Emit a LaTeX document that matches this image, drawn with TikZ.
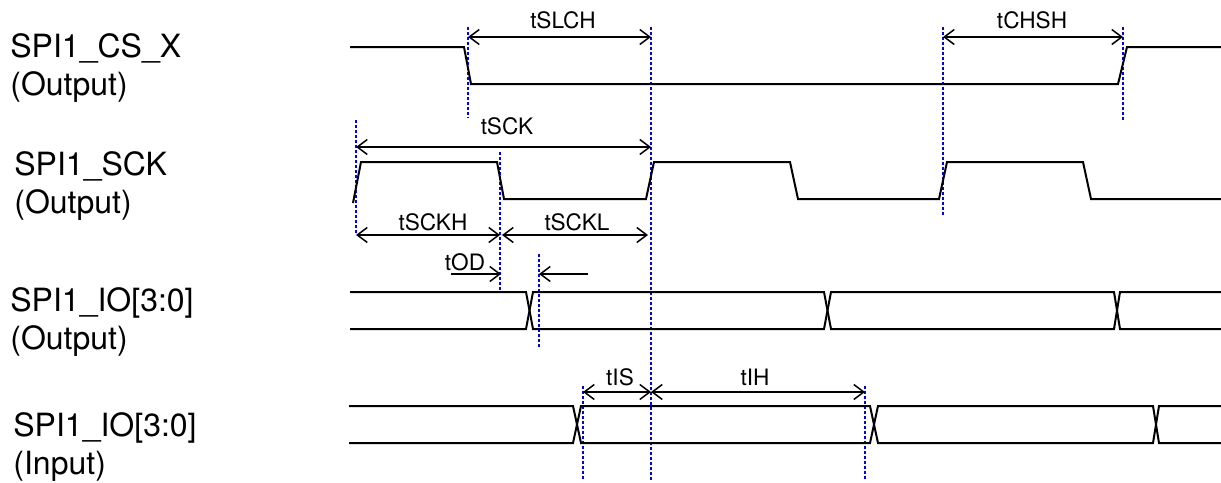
\documentclass[tikz,border=0pt]{standalone}
\usepackage{fontspec}
\setmainfont{TeX Gyre Heros}
\usetikzlibrary{arrows.meta}

\tikzset{
  sig/.style={line width=1pt, line join=miter},
  tick/.style={blue, line width=0.9pt, dash pattern=on 1.5pt off 1pt},
  barb/.tip={Straight Barb[length=5pt,width=7.5pt]},
  dim/.style={line width=0.75pt, barb-barb},
  signame/.style={anchor=north west, inner sep=0pt, align=left, font=\fontsize{16}{19}\selectfont},
  tlabel/.style={inner sep=0pt, font=\fontsize{11.3}{13}\selectfont}
}

\begin{document}
\begin{tikzpicture}[x=0.5pt, y=-0.5pt]
\useasboundingbox (0,0) rectangle (1221,482);
% signal names
\node [signame] (cs)    at (10,33)  {SPI1\_CS\_X\\(Output)};
\node [signame] (sck)   at (14,151) {SPI1\_SCK\\(Output)};
\node [signame] (ioout) at (10,287) {SPI1\_IO[3:0]\\(Output)};
\node [signame] (ioin)  at (13,412) {SPI1\_IO[3:0]\\(Input)};
% timing marks
\draw [tick] (468,27) -- (468,118);
\draw [tick] (651,27) -- (651,480);
\draw [tick] (943,27) -- (943,215);
\draw [tick] (1123,27) -- (1123,120);
\draw [tick] (356,120) -- (356,235);
\draw [tick] (500,152) -- (500,292);
\draw [tick] (539,254) -- (539,347);
\draw [tick] (583,386) -- (583,480);
\draw [tick] (865,386) -- (865,480);
% SPI1_CS_X
\draw [sig] (350,47) -- (464,47) -- (471,84) -- (1118,84) -- (1127,47) -- (1221,47);
% SPI1_SCK
\draw [sig] (353,203) -- (361,162) -- (497,162) -- (504,199) -- (646,199) -- (654,162)
  -- (790,162) -- (798,199) -- (939,199) -- (947,162) -- (1083,162) -- (1091,199) -- (1221,199);
% SPI1_IO output
\draw [sig] (350,292) -- (526,292) -- (533,329) -- (824,329) -- (831,292) -- (1114,292) -- (1120,329) -- (1221,329);
\draw [sig] (350,329) -- (526,329) -- (533,292) -- (824,292) -- (831,329) -- (1114,329) -- (1120,292) -- (1221,292);
% SPI1_IO input
\draw [sig] (349,406) -- (573,406) -- (581,443) -- (870,443) -- (878,406) -- (1153,406) -- (1159,443) -- (1221,443);
\draw [sig] (349,443) -- (573,443) -- (581,406) -- (870,406) -- (878,443) -- (1153,443) -- (1159,406) -- (1221,406);
% arrows
\draw [dim] (468,37) -- (651,37);   \node [tlabel] (tslch) at (563,20)  {tSLCH};
\draw [dim] (943,37) -- (1123,37);  \node [tlabel] (tchsh) at (1032,20) {tCHSH};
\draw [dim] (356,147) -- (651,147); \node [tlabel] (tsck)  at (507,126) {tSCK};
\draw [dim] (356,235) -- (500,235); \node [tlabel] (tsckh) at (433,222) {tSCKH};
\draw [dim] (502,235) -- (648,235); \node [tlabel] (tsckl) at (577,222) {tSCKL};
\draw [line width=0.75pt, -barb] (451,274) -- (501,274); \node [tlabel] (tod) at (465,262) {tOD};
\draw [line width=0.75pt, -barb] (588,274) -- (539,274);
\draw [dim] (583,392) -- (651,392); \node [tlabel] (tis) at (620,377) {tIS};
\draw [dim] (651,392) -- (865,392); \node [tlabel] (tih) at (755,377) {tIH};
\end{tikzpicture}
\end{document}
